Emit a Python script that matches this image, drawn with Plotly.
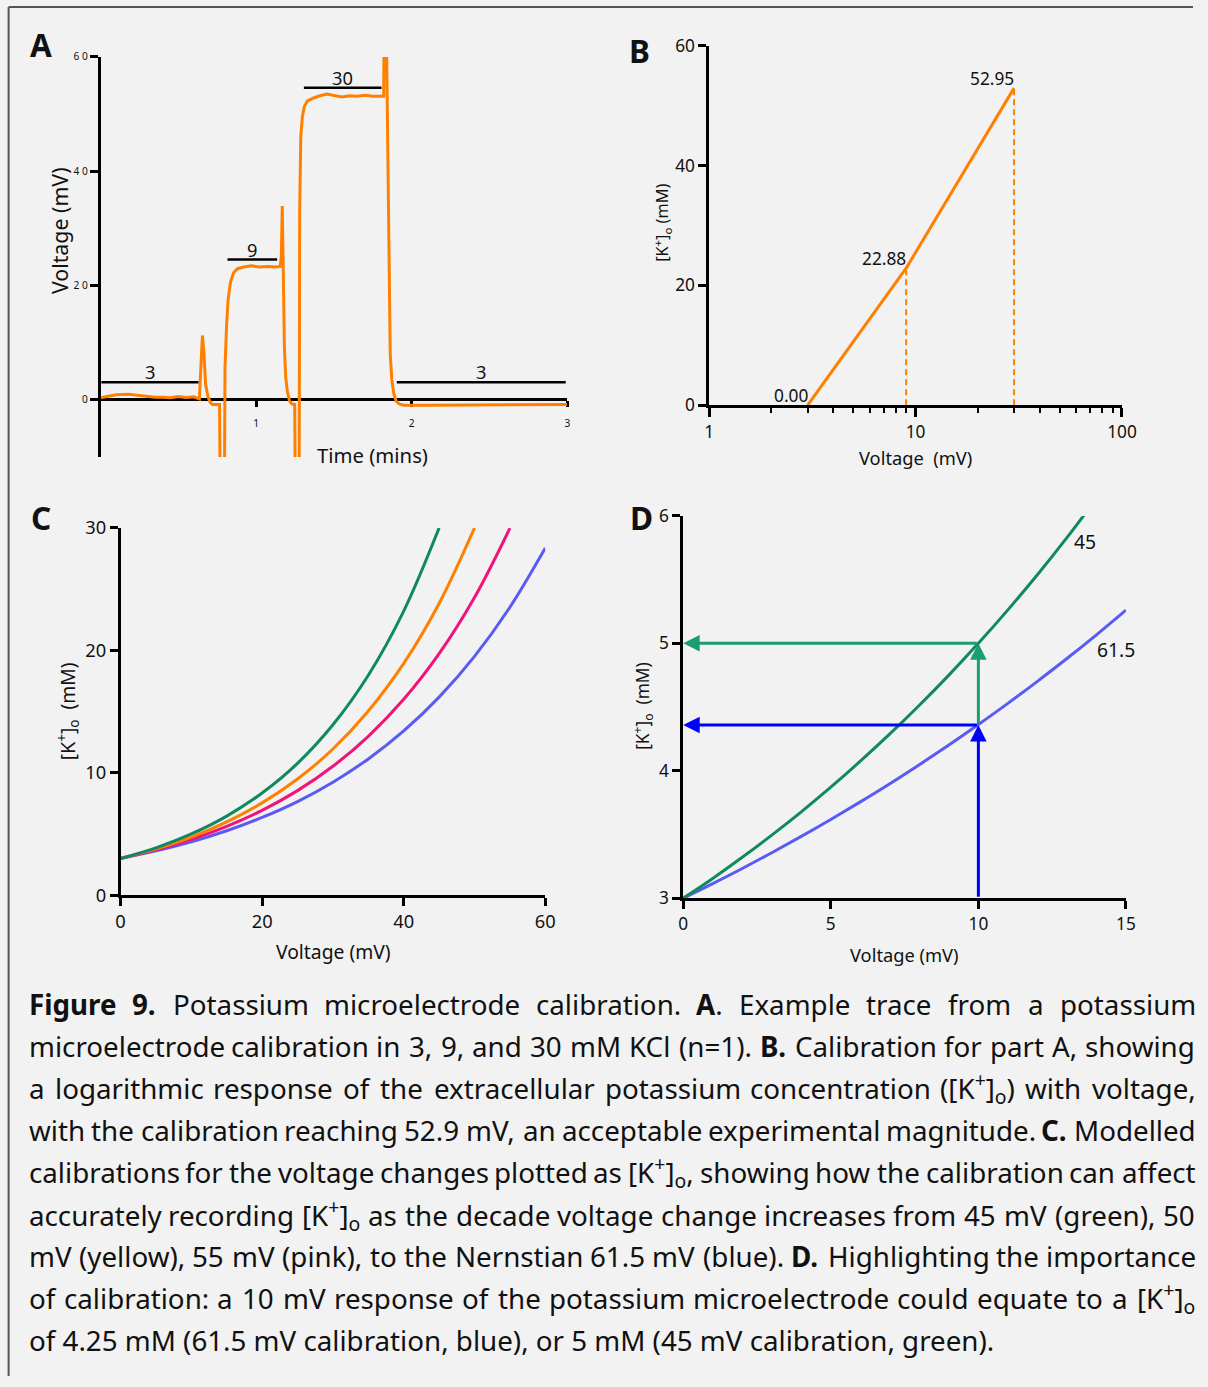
import os
import math
import re
import glob
import struct
import plotly.graph_objects as go

W, H = 1208, 1387
BG = '#f2f2f2'
FONT = 'Noto Sans'
INK = '#111111'

# ---------------- Panel A: example calibration trace ----------------
time_min = [0.0, 0.05, 0.1, 0.18, 0.25, 0.3, 0.35, 0.4, 0.45, 0.5, 0.55, 0.6, 0.635,
            0.655, 0.665, 0.675, 0.69, 0.705, 0.72, 0.765, 0.768, 0.797, 0.80, 0.81,
            0.82, 0.835, 0.855, 0.88, 0.92, 0.97, 1.02, 1.08, 1.12, 1.155, 1.162, 1.168,
            1.175, 1.182, 1.19, 1.20, 1.215, 1.23, 1.248, 1.251, 1.277, 1.28, 1.287,
            1.297, 1.31, 1.33, 1.37, 1.41, 1.455, 1.50, 1.55, 1.60, 1.65, 1.70, 1.75,
            1.81, 1.82, 1.822, 1.836, 1.838, 1.862, 1.872, 1.885, 1.90, 1.92, 1.95,
            2.1, 2.5, 2.8, 3.0]
voltage_mv = [0.3, 0.6, 0.8, 0.9, 0.7, 0.5, 0.4, 0.4, 0.3, 0.5, 0.35, 0.45, 0.1,
              11.2, 8.0, 2.7, 0.5, -0.5, -0.9, -0.9, -12.0, -12.0, 5.5, 13.0,
              17.5, 20.5, 22.2, 22.9, 23.2, 23.4, 23.2, 23.3, 23.2, 23.3, 25.0, 33.9,
              20.0, 9.0, 4.0, 1.5, -0.3, -0.8, -0.9, -12.0, -12.0, 33.0, 46.0,
              49.5, 51.3, 52.3, 52.8, 53.2, 53.5, 53.2, 53.0, 53.2, 53.1, 53.3, 53.1,
              53.1, 53.1, 63.0, 63.0, 63.0, 8.0, 3.5, 1.0, -0.3, -0.8, -1.0,
              -1.0, -1.0, -0.9, -0.9]
bar_start = [0.005, 0.816, 1.307, 1.904]
bar_end = [0.63, 1.135, 1.806, 2.99]
bar_level = [3.0, 24.5, 54.6, 3.0]
bar_label = ['3', '9', '30', '3']
a_ticks_y = [0, 20, 40, 60]
a_ticktext_y = ['0', '2 0', '4 0', '6 0']
a_ticks_x = [1, 2, 3]

# ---------------- Panel B: calibration ----------------
calib_conc = [3, 9, 30]
calib_mv = [0.00, 22.88, 52.95]

# ---------------- Panel C: modelled calibrations ----------------
model_v = [0, 5, 10, 15, 20, 25, 30, 35, 40, 45, 50, 55, 60]
k_45 = [3.00, 3.87, 5.00, 6.46, 8.35, 10.77, 13.92, 17.97, 23.21, 30.0]
k_50 = [3.00, 3.78, 4.75, 5.99, 7.54, 9.49, 11.94, 15.04, 18.93, 23.83, 30.0]
k_55 = [3.00, 3.70, 4.56, 5.62, 6.93, 8.54, 10.53, 12.98, 16.00, 19.73, 24.32, 29.98]
k_615 = [3.00, 3.62, 4.36, 5.26, 6.35, 7.65, 9.23, 11.13, 13.42, 16.18, 19.51, 23.52, 28.36]

# ---------------- Panel D: zoom on 0-15 mV ----------------
d_v = [0, 1, 2, 3, 4, 5, 6, 7, 8, 9, 10, 11, 12, 13, 14, 15]
d_k45 = [3.000, 3.155, 3.321, 3.495, 3.678, 3.871, 4.075, 4.289, 4.514, 4.751,
         5.000, 5.263, 5.539, 5.830, 6.136]
d_k615 = [3.000, 3.114, 3.233, 3.357, 3.485, 3.618, 3.756, 3.899, 4.048, 4.202,
          4.363, 4.529, 4.702, 4.881, 5.067, 5.261]
read_v = 10
read_k45 = 5.0
read_k615 = 4.36

# ---------------- Caption ----------------
caption_lines = [
    '<b>Figure</b> <b>9.</b> Potassium microelectrode calibration. <b>A</b>. Example trace from a potassium',
    'microelectrode calibration in 3, 9, and 30 mM KCl (n=1). <b>B.</b> Calibration for part A, showing',
    'a logarithmic response of the extracellular potassium concentration ([K<sup>+</sup>]<sub>o</sub>) with voltage,',
    'with the calibration reaching 52.9 mV, an acceptable experimental magnitude. <b>C.</b> Modelled',
    'calibrations for the voltage changes plotted as [K<sup>+</sup>]<sub>o</sub>, showing how the calibration can affect',
    'accurately recording [K<sup>+</sup>]<sub>o</sub> as the decade voltage change increases from 45 mV (green), 50',
    'mV (yellow), 55 mV (pink), to the Nernstian 61.5 mV (blue). <b>D.</b> Highlighting the importance',
    'of calibration: a 10 mV response of the potassium microelectrode could equate to a [K<sup>+</sup>]<sub>o</sub>',
    'of 4.25 mM (61.5 mV calibration, blue), or 5 mM (45 mV calibration, green).',
]

C_ORANGE = '#ff8000'
C_GREEN = '#0f8a5f'
C_PINK = '#f0147a'
C_BLUE = '#5a5af5'
C_GREEN_ARR = '#1a9e6e'
C_BLUE_ARR = '#0000ff'


# ---------- simple font metrics (used only to justify the caption) ----------
class Metrics:
    def __init__(self, path):
        data = open(path, 'rb').read()
        off0 = struct.unpack('>I', data[12:16])[0] if data[:4] == b'ttcf' else 0
        num = struct.unpack('>H', data[off0 + 4:off0 + 6])[0]
        tabs = {}
        for i in range(num):
            rec = off0 + 12 + 16 * i
            tag = data[rec:rec + 4].decode('latin1')
            tabs[tag] = struct.unpack('>I', data[rec + 8:rec + 12])[0]
        self.upem = struct.unpack('>H', data[tabs['head'] + 18:tabs['head'] + 20])[0]
        nhm = struct.unpack('>H', data[tabs['hhea'] + 34:tabs['hhea'] + 36])[0]
        h = tabs['hmtx']
        self.adv = [struct.unpack('>H', data[h + 4 * i:h + 4 * i + 2])[0] for i in range(nhm)]
        c = tabs['cmap']
        n = struct.unpack('>H', data[c + 2:c + 4])[0]
        self.cmap = {}
        for i in range(n):
            pid, eid, off = struct.unpack('>HHI', data[c + 4 + 8 * i:c + 12 + 8 * i])
            st = c + off
            fmt = struct.unpack('>H', data[st:st + 2])[0]
            if fmt == 4 and pid in (0, 3):
                segx2 = struct.unpack('>H', data[st + 6:st + 8])[0]
                seg = segx2 // 2
                ends = struct.unpack('>%dH' % seg, data[st + 14:st + 14 + segx2])
                starts = struct.unpack('>%dH' % seg, data[st + 16 + segx2:st + 16 + 2 * segx2])
                deltas = struct.unpack('>%dh' % seg, data[st + 16 + 2 * segx2:st + 16 + 3 * segx2])
                ro_pos = st + 16 + 3 * segx2
                ros = struct.unpack('>%dH' % seg, data[ro_pos:ro_pos + segx2])
                for k in range(seg):
                    if starts[k] > 0x2FF:
                        continue
                    for ch in range(starts[k], min(ends[k], 0x2FF) + 1):
                        if ros[k] == 0:
                            g = (ch + deltas[k]) & 0xFFFF
                        else:
                            gp = ro_pos + 2 * k + ros[k] + 2 * (ch - starts[k])
                            g = struct.unpack('>H', data[gp:gp + 2])[0]
                            if g:
                                g = (g + deltas[k]) & 0xFFFF
                        self.cmap[ch] = g
                break
        if ord('a') not in self.cmap:
            raise ValueError('no cmap')

    def width(self, s, size):
        tot = 0
        for ch in s:
            g = self.cmap.get(ord(ch), 0)
            tot += self.adv[min(g, len(self.adv) - 1)]
        return tot * size / self.upem


def all_font_files():
    out = []
    for root in ('/usr/share/fonts', '/usr/local/share/fonts', os.path.expanduser('~/.fonts'),
                 os.path.expanduser('~/.local/share/fonts')):
        out += glob.glob(os.path.join(root, '**', '*'), recursive=True)
    return sorted(f for f in out if f.lower().endswith(('.ttf', '.otf', '.ttc')))


def load_first(files, prefixes):
    for pre in prefixes:
        for f in files:
            if os.path.basename(f).startswith(pre):
                try:
                    return Metrics(f)
                except Exception:
                    pass
    return None


FILES = all_font_files()
CAP_FONT, M_REG, M_BOLD = FONT, None, None
for fam, regs, bolds in [('Noto Sans', ['NotoSans-Regular.', 'NotoSans['], ['NotoSans-Bold.']),
                         ('Open Sans', ['OpenSans-Regular.', 'OpenSans['], ['OpenSans-Bold.']),
                         ('Lato', ['Lato-Regular.'], ['Lato-Bold.']),
                         ('DejaVu Sans', ['DejaVuSans.'], ['DejaVuSans-Bold.'])]:
    m = load_first(FILES, regs)
    if m is not None:
        CAP_FONT, M_REG, M_BOLD = fam, m, load_first(FILES, bolds)
        break


def text_width(markup, size):
    tot = 0.0
    bold = False
    scale = 1.0
    for tok in re.split(r'(<[^>]+>)', markup):
        if not tok:
            continue
        if tok.startswith('<'):
            t = tok.lower()
            if t == '<b>':
                bold = True
            elif t == '</b>':
                bold = False
            elif t in ('<sup>', '<sub>'):
                scale = 0.7
            elif t in ('</sup>', '</sub>'):
                scale = 1.0
            continue
        m = M_BOLD if (bold and M_BOLD) else M_REG
        if m is None:
            tot += len(tok) * 0.54 * size * scale * (1.06 if bold else 1.0)
        else:
            w = m.width(tok, size * scale)
            if bold and M_BOLD is None:
                w *= 1.06
            tot += w
    return tot


# The rendered page comes out slightly shrunk and shifted; target positions are given
# in picture pixels and mapped back into figure coordinates.
OFF_X, OFF_Y, SC = 2.4, 13.0, 0.984


def spx(x):
    return (x - OFF_X) / SC


def spy(y):
    return (y - OFF_Y) / SC


def px(x):
    return spx(x) / W


def py(y):
    return 1 - spy(y) / H


def fs(size):
    return size / SC


fig = go.Figure()

# Panel A
fig.add_trace(go.Scatter(x=time_min, y=voltage_mv, mode='lines',
                         line=dict(color=C_ORANGE, width=3), xaxis='x', yaxis='y',
                         showlegend=False))
for s, e, lv in zip(bar_start, bar_end, bar_level):
    fig.add_trace(go.Scatter(x=[s, e], y=[lv, lv], mode='lines',
                             line=dict(color='black', width=2.5), xaxis='x', yaxis='y',
                             showlegend=False))

# Panel B
fig.add_trace(go.Scatter(x=calib_conc, y=calib_mv, mode='lines',
                         line=dict(color=C_ORANGE, width=3), xaxis='x2', yaxis='y2',
                         showlegend=False))
for c, m in zip(calib_conc[1:], calib_mv[1:]):
    fig.add_trace(go.Scatter(x=[c, c], y=[0, m], mode='lines',
                             line=dict(color=C_ORANGE, width=2, dash='6px,4px'),
                             xaxis='x2', yaxis='y2', showlegend=False))

# Panel C
for ys, col in [(k_615, C_BLUE), (k_55, C_PINK), (k_50, C_ORANGE), (k_45, C_GREEN)]:
    fig.add_trace(go.Scatter(x=model_v[:len(ys)], y=ys, mode='lines',
                             line=dict(color=col, width=3, shape='spline'),
                             xaxis='x3', yaxis='y3', showlegend=False))

# Panel D
fig.add_trace(go.Scatter(x=d_v[:len(d_k615)], y=d_k615, mode='lines',
                         line=dict(color=C_BLUE, width=3, shape='spline'),
                         xaxis='x4', yaxis='y4', showlegend=False))
fig.add_trace(go.Scatter(x=d_v[:len(d_k45)], y=d_k45, mode='lines',
                         line=dict(color=C_GREEN, width=3, shape='spline'),
                         xaxis='x4', yaxis='y4', showlegend=False))

ann = []


def arrow(x0, y0, x1, y1, col):
    ann.append(dict(x=x1, y=y1, ax=x0, ay=y0, xref='x4', yref='y4', axref='x4', ayref='y4',
                    showarrow=True, arrowhead=2, arrowsize=1.1, arrowwidth=3,
                    arrowcolor=col, text=''))


arrow(read_v, read_k45, 0, read_k45, C_GREEN_ARR)
arrow(read_v, read_k615, read_v, read_k45, C_GREEN_ARR)
arrow(read_v, read_k615, 0, read_k615, C_BLUE_ARR)
arrow(read_v, 3, read_v, read_k615, C_BLUE_ARR)

ann.append(dict(x=13.6, y=5.80, xref='x4', yref='y4', text='45', showarrow=False,
                font=dict(family=FONT, size=fs(19), color=INK)))
ann.append(dict(x=14.66, y=4.95, xref='x4', yref='y4', text='61.5', showarrow=False,
                font=dict(family=FONT, size=fs(19), color=INK)))

# Panel A bar labels
for s, e, lv, lab in zip(bar_start, bar_end, bar_level, bar_label):
    ann.append(dict(x=(s + e) / 2, y=lv, xref='x', yref='y', text=lab, showarrow=False,
                    yanchor='bottom', yshift=-4,
                    font=dict(family=FONT, size=fs(18), color=INK)))

# Panel B value labels
for c, m in zip(calib_conc, calib_mv):
    ann.append(dict(x=math.log10(c), y=m, xref='x2', yref='y2', text=f'{m:.2f}',
                    showarrow=False, xanchor='right', yanchor='bottom', yshift=-4, xshift=2,
                    font=dict(family=FONT, size=fs(17), color=INK)))


def paper_text(x, y, text, size, angle=0, xanchor='center', family=FONT):
    ann.append(dict(x=px(x), y=py(y), xref='paper', yref='paper', text=text,
                    showarrow=False, textangle=angle, xanchor=xanchor, yanchor='middle',
                    borderpad=0, borderwidth=0,
                    font=dict(family=family, size=fs(size), color=INK)))


# panel letters
for lx, ly, lt in [(38, 44, 'A'), (637, 50, 'B'), (38, 518, 'C'), (639, 518, 'D')]:
    paper_text(lx, ly, f'<b>{lt}</b>', 31)

# axis titles
paper_text(57, 230, 'Voltage (mV)', 21, angle=-90)
paper_text(370, 455, 'Time (mins)', 20)
paper_text(660, 222, '[K<sup>+</sup>]<sub>o</sub> (mM)', 16, angle=-90)
paper_text(913, 457, 'Voltage  (mV)', 18)
paper_text(65, 712, '[K<sup>+</sup>]<sub>o</sub>  (mM)', 19, angle=-90)
paper_text(331, 952, 'Voltage (mV)', 19)
paper_text(640, 707, '[K<sup>+</sup>]<sub>o</sub>  (mM)', 17, angle=-90)
paper_text(902, 955, 'Voltage (mV)', 18)

# caption, justified word by word (last line left aligned)
CAP = 27.3
CAP_L, CAP_R = 26.0, 1192.0
line_y = [1005, 1047, 1089, 1131, 1173, 1216, 1258, 1300, 1342]
for i, (line, yy) in enumerate(zip(caption_lines, line_y)):
    if i == len(caption_lines) - 1:
        paper_text(CAP_L, yy, line, CAP, xanchor='left', family=CAP_FONT)
        continue
    words = line.split(' ')
    widths = [text_width(w, CAP) for w in words]
    gap = (CAP_R - CAP_L - sum(widths)) / (len(words) - 1)
    x = CAP_L
    for w, wd in zip(words, widths):
        paper_text(x, yy, w, CAP, xanchor='left', family=CAP_FONT)
        x += wd + gap

for a in ann:
    fig.add_annotation(**a)

LW = 2.5 / SC
axis_common = dict(showline=True, linecolor='black', linewidth=LW, ticks='outside',
                   tickcolor='black', tickwidth=LW, showgrid=False, zeroline=False,
                   tickfont=dict(family=FONT, size=fs(18), color=INK))

# A axes geometry: x axis line sits at V = 0
a_y_range = [-10.1, 60]
a_y_dom = [py(457), py(56)]
a_x_pos = a_y_dom[0] + (0 - a_y_range[0]) / (a_y_range[1] - a_y_range[0]) * (a_y_dom[1] - a_y_dom[0])

fig.update_layout(
    width=W, height=H, margin=dict(l=0, r=0, t=0, b=0),
    paper_bgcolor=BG, plot_bgcolor='rgba(0,0,0,0)',
    font=dict(family=FONT, color=INK),
    xaxis=dict(axis_common, domain=[px(98), px(565)], range=[0, 3], anchor='free',
               position=a_x_pos, tickvals=a_ticks_x, ticklen=6, layer='below traces',
               tickfont=dict(family=FONT, size=fs(10), color=INK), ticklabelstandoff=8),
    yaxis=dict(axis_common, domain=a_y_dom, range=a_y_range, anchor='x',
               tickvals=a_ticks_y, ticktext=a_ticktext_y, ticklen=8,
               tickfont=dict(family=FONT, size=fs(10), color=INK)),
    xaxis2=dict(axis_common, domain=[px(707), px(1120)], type='log', range=[0, 2],
                anchor='y2', tickvals=[1, 10, 100], ticklen=9,
                tickfont=dict(family=FONT, size=fs(17), color=INK),
                minor=dict(tickvals=[2, 3, 4, 5, 6, 7, 8, 9, 20, 30, 40, 50, 60, 70, 80, 90],
                           ticks='outside', ticklen=5, tickwidth=2, tickcolor='black')),
    yaxis2=dict(axis_common, domain=[py(405), py(45)], range=[0, 60], anchor='x2',
                tickvals=[0, 20, 40, 60], ticklen=8,
                tickfont=dict(family=FONT, size=fs(17), color=INK)),
    xaxis3=dict(axis_common, domain=[px(118), px(543)], range=[0, 60], anchor='y3',
                tickvals=[0, 20, 40, 60], ticklen=8),
    yaxis3=dict(axis_common, domain=[py(896), py(528)], range=[0, 30], anchor='x3',
                tickvals=[0, 10, 20, 30], ticklen=8),
    xaxis4=dict(axis_common, domain=[px(681), px(1124)], range=[0, 15], anchor='y4',
                tickvals=[0, 5, 10, 15], ticklen=8, tickfont=dict(family=FONT, size=fs(17), color=INK)),
    yaxis4=dict(axis_common, domain=[py(899), py(516)], range=[3, 6], anchor='x4',
                tickvals=[3, 4, 5, 6], ticklen=8, tickfont=dict(family=FONT, size=fs(17), color=INK)),
    shapes=[
        dict(type='line', xref='paper', yref='paper', x0=px(6), x1=1, y0=py(6), y1=py(6),
             line=dict(color='#555555', width=2)),
        dict(type='line', xref='paper', yref='paper', x0=px(6), x1=px(6), y0=py(6), y1=0,
             line=dict(color='#555555', width=2)),
    ],
)

fig.write_html('out.html')
